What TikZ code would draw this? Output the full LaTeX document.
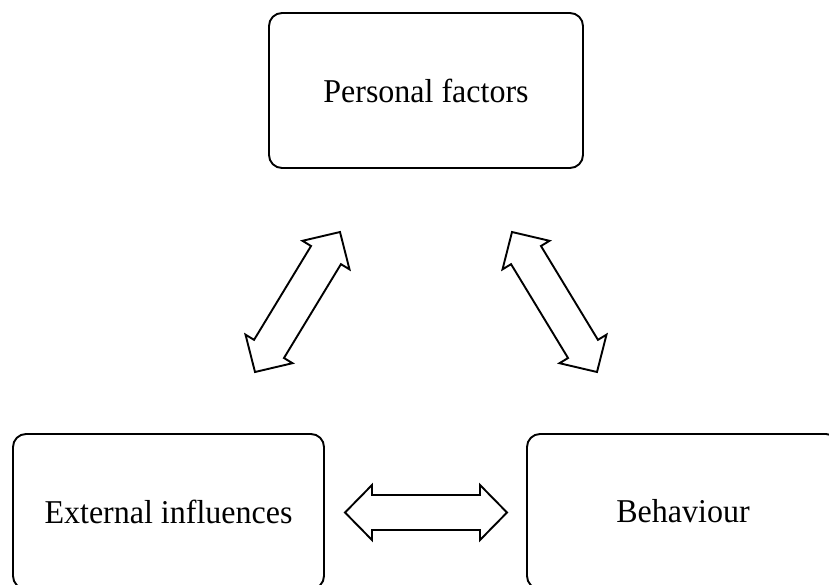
\documentclass[tikz,border=0pt]{standalone}
\usepackage{fontspec}
\setmainfont{Liberation Serif}
\usetikzlibrary{calc}
\tikzset{
  factorbox/.style={draw, line width=1.9pt, rounded corners=13pt, inner sep=0pt,
    font=\fontsize{32}{38}\selectfont},
  blockarrow/.style={draw, line width=1.9pt, line join=miter, fill=white}
}
\newcommand{\tallertext}[1]{\scalebox{1}[1.04]{#1}}
\newcommand{\dblblockarrow}[2]{%
  \draw[blockarrow] (#1)
    -- ($(#1)!27pt!(#2)!27.5pt!90:(#2)$)
    -- ($(#1)!27pt!(#2)!17.5pt!90:(#2)$)
    -- ($(#2)!27pt!(#1)!17.5pt!-90:(#1)$)
    -- ($(#2)!27pt!(#1)!27.5pt!-90:(#1)$)
    -- (#2)
    -- ($(#2)!27pt!(#1)!27.5pt!90:(#1)$)
    -- ($(#2)!27pt!(#1)!17.5pt!90:(#1)$)
    -- ($(#1)!27pt!(#2)!17.5pt!-90:(#2)$)
    -- ($(#1)!27pt!(#2)!27.5pt!-90:(#2)$)
    -- cycle;}
\begin{document}
\begin{tikzpicture}[x=1pt,y=-1pt]
  \clip (0,0) rectangle (829,584);
  \fill[white] (0,0) rectangle (829,584);
  \node[factorbox, minimum width=314pt, minimum height=155pt] (pf) at (426,90.5) {\tallertext{Personal factors}};
  \node[factorbox, minimum width=311pt, minimum height=155pt] (ei) at (168.5,511.5) {\tallertext{External influences}};
  \node[factorbox, minimum width=312pt, minimum height=155pt] (bh) at (683,511.5) {\tallertext{Behaviour}};
  % arrow end points
  \coordinate (h1) at (345,512.5);
  \coordinate (h2) at (507,512.5);
  \coordinate (l1) at (255,372);
  \coordinate (l2) at (340,232);
  \coordinate (r1) at (512,232);
  \coordinate (r2) at (597,372);
  \dblblockarrow{h1}{h2}
  \dblblockarrow{l1}{l2}
  \dblblockarrow{r1}{r2}
\end{tikzpicture}
\end{document}
